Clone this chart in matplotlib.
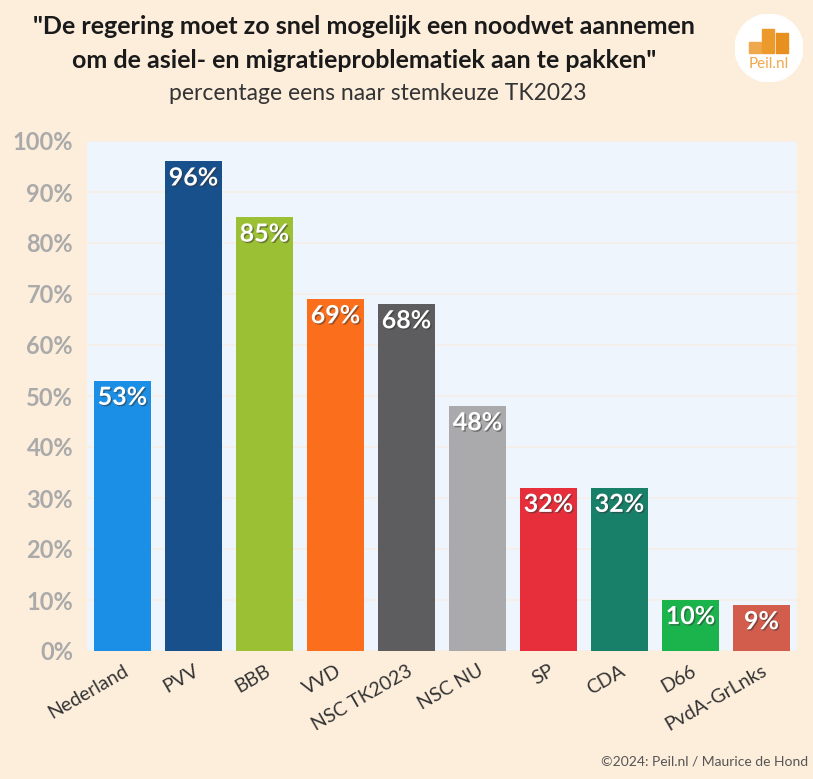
import matplotlib
matplotlib.use("Agg")
import matplotlib.pyplot as plt
from matplotlib.patches import Circle, Rectangle
import matplotlib.patheffects as pe

plt.rcParams['font.family'] = ['Lato', 'DejaVu Sans']

# data
parties = ["Nederland", "PVV", "BBB", "VVD", "NSC TK2023", "NSC NU", "SP", "CDA", "D66", "PvdA-GrLnks"]
values = [53, 96, 85, 69, 68, 48, 32, 32, 10, 9]
colors = ["#1b8fe5", "#17508a", "#9cc033", "#fb6f1c", "#5d5d5f", "#aaaaac",
          "#e62f3b", "#187f69", "#1ab34c", "#d25d4c"]
yticks = [0, 10, 20, 30, 40, 50, 60, 70, 80, 90, 100]

bg = "#fdeedc"
fig = plt.figure(figsize=(8.13, 7.79), dpi=100, facecolor=bg)
ax = fig.add_axes([87/813, 1-651/779, 710/813, 510/779])
ax.set_facecolor("#eef5fd")

x = range(len(parties))
bars = ax.bar(x, values, width=0.8, color=colors, zorder=3)
for i, v in enumerate(values):
    ax.text(i, v - 1.0, f"{v}%", ha="center", va="top", color="white",
            fontsize=18, fontweight="bold", zorder=4,
            path_effects=[pe.withSimplePatchShadow(offset=(1, -1), shadow_rgbFace="#333333", alpha=0.5)])

ax.set_xlim(-0.5, len(parties) - 0.5)
ax.set_ylim(0, 100)
ax.set_yticks(yticks)
ax.set_yticklabels([f"{t}%" for t in yticks], fontsize=17, fontweight="bold", color="#aaaaaa")
ax.set_xticks(list(x))
ax.set_xticklabels(parties, rotation=30, ha="right", rotation_mode="anchor", fontsize=14, color="#333333")
ax.tick_params(axis="y", length=0, pad=10)
ax.tick_params(axis="x", length=0, pad=8)
ax.yaxis.grid(True, color="#f7eee8", linewidth=1.2, zorder=0)
for s in ax.spines.values():
    s.set_visible(False)

fig.text(364/813, 1-27/779, "\"De regering moet zo snel mogelijk een noodwet aannemen",
         ha="center", va="center", fontsize=18, fontweight="bold", color="#1a1a1a")
fig.text(364/813, 1-61/779, "om de asiel- en migratieproblematiek aan te pakken\"",
         ha="center", va="center", fontsize=18, fontweight="bold", color="#1a1a1a")
fig.text(378/813, 1-94/779, "percentage eens naar stemkeuze TK2023",
         ha="center", va="center", fontsize=16.5, color="#333333")
fig.text(808/813, 1-762/779, "©2024: Peil.nl / Maurice de Hond",
         ha="right", va="center", fontsize=10, color="#555555",
         family=['Liberation Sans Narrow', 'Lato', 'DejaVu Sans'])

# logo
lax = fig.add_axes([735/813, 1-82/779, 68/813, 68/779])
lax.set_xlim(0, 1)
lax.set_ylim(0, 1)
lax.set_aspect("equal")
lax.axis("off")
lax.add_patch(Circle((0.5, 0.5), 0.5, color="white"))
lax.add_patch(Rectangle((0.20, 0.42), 0.18, 0.17, color="#f0a84e"))
lax.add_patch(Rectangle((0.40, 0.42), 0.18, 0.36, color="#ec9a2c"))
lax.add_patch(Rectangle((0.60, 0.42), 0.18, 0.30, color="#e8901f"))
lax.text(0.5, 0.26, "Peil.nl", ha="center", va="center", fontsize=11, color="#f0a84e")

fig.savefig("out.png", dpi=100, facecolor=bg)
